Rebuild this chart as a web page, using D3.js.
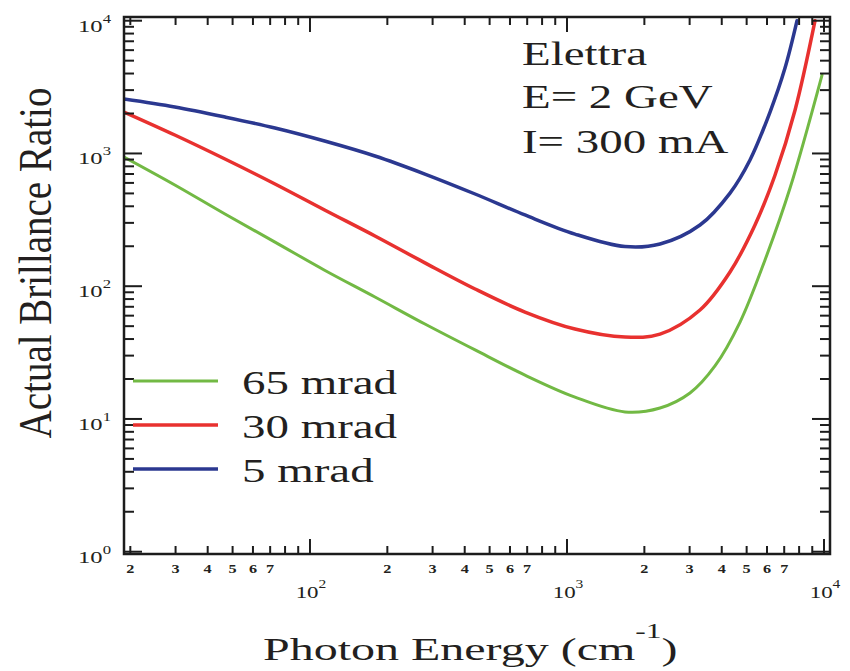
<!DOCTYPE html>
<html>
<head>
<meta charset="utf-8">
<script src="https://cdn.jsdelivr.net/npm/d3@7"></script>
<style>
  body { margin: 0; background: #fff; }
  svg { display: block; }
  text { font-family: "Liberation Serif", "Times New Roman", serif; fill: #231f20; }
</style>
</head>
<body>
<svg id="chart" width="850" height="671"></svg>
<script>
// Photon energy (cm^-1) and actual brilliance ratio, one pair of arrays per acceptance angle
const energy5 = [18.9, 29.8, 46.7, 73.1, 114, 179, 280, 439, 686, 1074, 1681, 2301, 3292, 4308, 5153, 6165, 7050, 7852];
const ratio5  = [2570, 2239, 1882, 1555, 1241, 957, 700, 495, 344, 247, 199, 208, 289, 503, 893, 2052, 4395, 10000];

const energy30 = [18.9, 29.8, 46.7, 73.1, 114, 179, 280, 439, 686, 1074, 1681, 2301, 3292, 4308, 5388, 6449, 7716, 9226];
const ratio30  = [2052, 1377, 908, 589, 375, 239, 150, 95.3, 63.9, 47.6, 41.4, 43.6, 66.2, 128, 289, 688, 2125, 10000];

const energy65 = [18.9, 29.8, 46.7, 73.1, 114, 179, 280, 439, 686, 1074, 1681, 2301, 3010, 3765, 4713, 5894, 7376, 9822];
const ratio65  = [940, 579, 350, 215, 132, 82.9, 51.9, 33.1, 21.4, 14.6, 11.3, 12.1, 15.7, 25.1, 53.7, 157.6, 549, 3898];

const legendNames = ["65 mrad", "30 mrad", "5 mrad"];
const infoLines = ["Elettra", "E= 2 GeV", "I= 300 mA"];

// Axis tick values and labels
const xDecades = [100, 1000, 10000];
const xDecadeExp = ["2", "3", "4"];
const xMinorDigits = [2, 3, 4, 5, 6, 7];
const yDecades = [1, 10, 100, 1000, 10000];
const yDecadeExp = ["0", "1", "2", "3", "4"];

const series = [
  { name: legendNames[0], energy: energy65, ratio: ratio65, color: "#72b944", width: 3 },
  { name: legendNames[1], energy: energy30, ratio: ratio30, color: "#e8312f", width: 3.5 },
  { name: legendNames[2], energy: energy5,  ratio: ratio5,  color: "#2b3890", width: 3.5 }
];

const svg = d3.select("#chart");
const plotL = 124, plotR = 830, plotT = 17, plotB = 554;

const x = d3.scaleLog().domain([18.9, 10550]).range([plotL, plotR]);
const y = d3.scaleLog().domain([0.961, 10664]).range([plotB, plotT]);

// Text helper: horizontally widened serif lettering
function wideText(parent, px, py, size, sx, anchor) {
  const g = parent.append("g").attr("transform", `translate(${px},${py}) scale(${sx},1)`);
  return g.append("text").attr("x", 0).attr("y", 0)
    .attr("font-size", size).attr("text-anchor", anchor || "start");
}

svg.append("defs").append("clipPath").attr("id", "plotClip")
  .append("rect").attr("x", plotL).attr("y", plotT)
  .attr("width", plotR - plotL).attr("height", plotB - plotT);

// Curves
const line = d3.line()
  .x(d => x(d[0])).y(d => y(d[1]))
  .curve(d3.curveCatmullRom.alpha(0.5));

const curves = svg.append("g").attr("clip-path", "url(#plotClip)");
series.forEach(s => {
  curves.append("path")
    .datum(s.energy.map((e, i) => [e, s.ratio[i]]))
    .attr("d", line)
    .attr("fill", "none")
    .attr("stroke", s.color)
    .attr("stroke-width", s.width)
    .attr("stroke-linejoin", "round")
    .attr("stroke-linecap", "round");
});

// Frame
const axisColor = "#1c1c1c";
svg.append("rect")
  .attr("x", plotL).attr("y", plotT)
  .attr("width", plotR - plotL).attr("height", plotB - plotT)
  .attr("fill", "none").attr("stroke", axisColor).attr("stroke-width", 2.5);

// Tick values
const xMinor = [];
[10, 100, 1000].forEach(d => d3.range(2, 10).forEach(k => {
  const v = k * d;
  if (v >= x.domain()[0] && v <= x.domain()[1]) xMinor.push(v);
}));
const yMinor = [];
[1, 10, 100, 1000].forEach(d => d3.range(2, 10).forEach(k => yMinor.push(k * d)));

const ticks = svg.append("g").attr("stroke", axisColor).attr("stroke-width", 2);
const xMajorLen = 15, xMinorLen = 8, yMajorLen = 18, yMinorLen = 10;

// bottom and top ticks (pointing inward)
xDecades.concat(xMinor).forEach(v => {
  const len = xDecades.includes(v) ? xMajorLen : xMinorLen;
  const px = x(v);
  ticks.append("line").attr("x1", px).attr("x2", px).attr("y1", plotB).attr("y2", plotB - len);
  ticks.append("line").attr("x1", px).attr("x2", px).attr("y1", plotT).attr("y2", plotT + len);
});
// left and right ticks (pointing inward)
yDecades.concat(yMinor).forEach(v => {
  const len = yDecades.includes(v) ? yMajorLen : yMinorLen;
  const py = y(v);
  ticks.append("line").attr("x1", plotL).attr("x2", plotL + len).attr("y1", py).attr("y2", py);
  ticks.append("line").attr("x1", plotR).attr("x2", plotR - len).attr("y1", py).attr("y2", py);
});

// X minor digit labels
[10, 100, 1000].forEach(d => xMinorDigits.forEach(k => {
  const v = k * d;
  if (v < x.domain()[0] || v > x.domain()[1]) return;
  wideText(svg, x(v), 573, 12.5, 1.3, "middle")
    .attr("font-weight", "bold").text(String(k));
}));

// X decade labels
xDecades.forEach((v, i) => {
  const t = wideText(svg, x(v) + 1, 598, 17, 1.35, "middle");
  t.append("tspan").text("10");
  t.append("tspan").attr("font-size", 11.5).attr("dy", -10).text(xDecadeExp[i]);
});

// Y decade labels
yDecades.forEach((v, i) => {
  const t = wideText(svg, 111, y(v) + 11, 17, 1.45, "end");
  t.append("tspan").text("10");
  t.append("tspan").attr("font-size", 11.5).attr("dy", -9).text(yDecadeExp[i]);
});

// Axis titles
const xt = wideText(svg, 263, 660, 32, 1.5, "start");
xt.append("tspan").text("Photon Energy (cm");
xt.append("tspan").attr("font-size", 21).attr("dy", -22).text("-1");
xt.append("tspan").attr("dy", 22).text(")");

svg.append("g").attr("transform", "translate(51,263) scale(1.2,1) rotate(-90)")
  .append("text").attr("x", 0).attr("y", 0)
  .attr("font-size", 39).attr("text-anchor", "middle")
  .text("Actual Brillance Ratio");

// Storage ring parameters
const infoBase = [65, 108, 153];
infoLines.forEach((s, i) => wideText(svg, 522, infoBase[i], 34, 1.38, "start").text(s));

// Legend
const legY = [381, 425, 469];
series.forEach((s, i) => {
  svg.append("line")
    .attr("x1", 133).attr("x2", 218).attr("y1", legY[i]).attr("y2", legY[i])
    .attr("stroke", s.color).attr("stroke-width", s.width);
  wideText(svg, 242, legY[i] + 13, 34, 1.38, "start").text(s.name);
});
</script>
</body>
</html>
